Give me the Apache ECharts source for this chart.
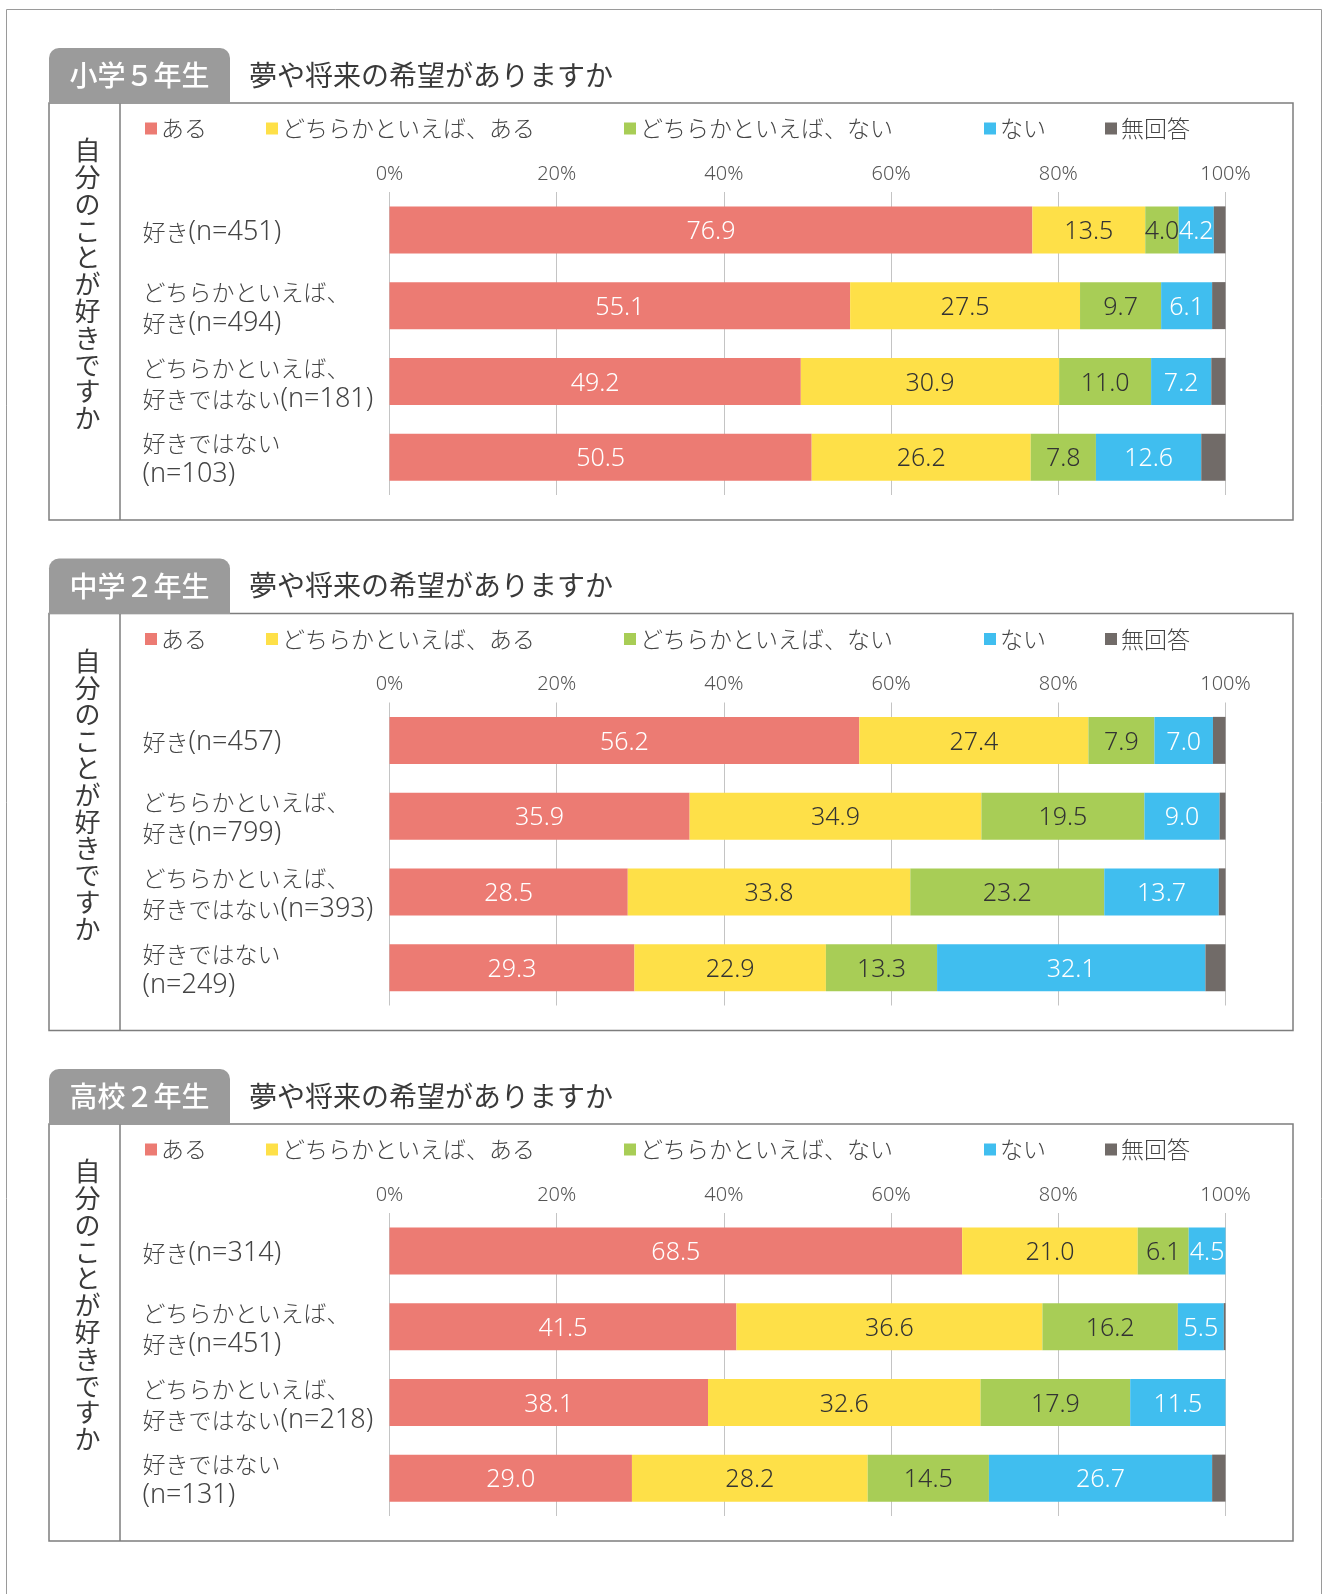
<!DOCTYPE html>
<html><head><meta charset="utf-8">
<script src="https://cdn.jsdelivr.net/npm/echarts@6/dist/echarts.min.js"></script>
<style>html,body{margin:0;padding:0;background:#fff}#c{width:1324px;height:1594px}</style>
</head><body><div id="c"></div>
<script>
// ---- data ----
const legendNames = ['ある', 'どちらかといえば、ある', 'どちらかといえば、ない', 'ない', '無回答'];
const panelTags = ['小学５年生', '中学２年生', '高校２年生'];
const questionTitle = '夢や将来の希望がありますか';
const sideTitle = '自分のことが好きですか';
const tickLabels = ['0%', '20%', '40%', '60%', '80%', '100%'];

const categories1 = ['好き(n=451)', 'どちらかといえば、\n好き(n=494)', 'どちらかといえば、\n好きではない(n=181)', '好きではない\n(n=103)'];
const categories2 = ['好き(n=457)', 'どちらかといえば、\n好き(n=799)', 'どちらかといえば、\n好きではない(n=393)', '好きではない\n(n=249)'];
const categories3 = ['好き(n=314)', 'どちらかといえば、\n好き(n=451)', 'どちらかといえば、\n好きではない(n=218)', '好きではない\n(n=131)'];

// 小学5年生
const p1Aru      = [76.9, 55.1, 49.2, 50.5];
const p1YayaAru  = [13.5, 27.5, 30.9, 26.2];
const p1YayaNai  = [4.0, 9.7, 11.0, 7.8];
const p1Nai      = [4.2, 6.1, 7.2, 12.6];
const p1Mukaito  = [1.4, 1.6, 1.7, 2.9];
// 中学2年生
const p2Aru      = [56.2, 35.9, 28.5, 29.3];
const p2YayaAru  = [27.4, 34.9, 33.8, 22.9];
const p2YayaNai  = [7.9, 19.5, 23.2, 13.3];
const p2Nai      = [7.0, 9.0, 13.7, 32.1];
const p2Mukaito  = [1.5, 0.7, 0.8, 2.4];
// 高校2年生
const p3Aru      = [68.5, 41.5, 38.1, 29.0];
const p3YayaAru  = [21.0, 36.6, 32.6, 28.2];
const p3YayaNai  = [6.1, 16.2, 17.9, 14.5];
const p3Nai      = [4.5, 5.5, 11.5, 26.7];
const p3Mukaito  = [0, 0.2, 0, 1.6];

const categories = [categories1, categories2, categories3];
const values = [
  [p1Aru, p1YayaAru, p1YayaNai, p1Nai, p1Mukaito],
  [p2Aru, p2YayaAru, p2YayaNai, p2Nai, p2Mukaito],
  [p3Aru, p3YayaAru, p3YayaNai, p3Nai, p3Mukaito]
];

// ---- style ----
const FONT = '"Noto Sans CJK JP", "Noto Sans", sans-serif';
const LFONT = '"Noto Sans", "Noto Sans CJK JP", sans-serif';
const colors = ['#EC7B73', '#FEE048', '#A8CD56', '#40BEEF', '#716B68'];
const labelColors = ['#ffffff', '#333333', '#333333', '#ffffff', '#ffffff'];
const OFFSET = 510.5;
const legendLefts = [145, 266, 624, 984, 1105];

const grid = [], xAxis = [], yAxis = [], series = [], legend = [], graphic = [];

graphic.push({type: 'rect', shape: {x: 6.5, y: 9.5, width: 1315, height: 1600},
  style: {fill: 'none', stroke: '#9a9a9a', lineWidth: 1}, silent: true});

const catFormatter = v => v.split('\n').map(line =>
  line.replace(/([\x20-\x7e]+)/g, '{l|$1}').replace(/(^|\})([^{}]+)(?=\{|$)/g, '$1{j|$2}')
).join('\n');

for (let p = 0; p < 3; p++) {
  const dy = p * OFFSET;
  grid.push({left: 389.5, width: 836, top: 192 + dy, height: 303});
  xAxis.push({
    gridIndex: p, type: 'value', position: 'top', min: 0, max: 100, interval: 20,
    axisLine: {show: false}, axisTick: {show: false},
    axisLabel: {formatter: v => tickLabels[Math.round(v / 20)], color: '#555', fontSize: 20, fontFamily: LFONT, fontWeight: 300, margin: 8},
    splitLine: {lineStyle: {color: '#c4c4c4', width: 1}}
  });
  yAxis.push({
    gridIndex: p, type: 'category', inverse: true, data: categories[p],
    axisLine: {show: false}, axisTick: {show: false},
    axisLabel: {align: 'left', margin: 247, color: '#444', formatter: catFormatter, padding: [4, 0, 0, 0],
      rich: {
        j: {fontSize: 23, lineHeight: 31, fontFamily: FONT, fontWeight: 300, color: '#444', verticalAlign: 'middle'},
        l: {fontSize: 27, lineHeight: 31, fontFamily: LFONT, fontWeight: 300, color: '#444', verticalAlign: 'middle'}
      }}
  });
  for (let s = 0; s < 5; s++) {
    series.push({
      name: legendNames[s], type: 'bar', xAxisIndex: p, yAxisIndex: p, stack: 'p' + p,
      barWidth: 47, data: values[p][s], itemStyle: {color: colors[s]},
      label: {show: s < 4, position: 'inside', offset: [0, 2],
        formatter: d => d.value > 0 ? d.value.toFixed(1) : '',
        color: labelColors[s], fontSize: 25, fontFamily: LFONT, fontWeight: 300},
      silent: true, animation: false
    });
    legend.push({
      data: [legendNames[s]], left: legendLefts[s], top: 117 + dy, icon: 'rect',
      itemWidth: 12, itemHeight: 12, padding: 0, itemGap: 0, selectedMode: false,
      textStyle: {fontSize: 23, color: '#444', fontFamily: FONT, fontWeight: 300, padding: [0, 0, 0, -1]}
    });
  }
  // panel box
  graphic.push({type: 'rect', shape: {x: 49, y: 103 + dy, width: 1244, height: 417},
    style: {fill: 'none', stroke: '#7d7d7d', lineWidth: 1.5}, silent: true});
  graphic.push({type: 'line', shape: {x1: 120, y1: 103 + dy, x2: 120, y2: 520 + dy},
    style: {stroke: '#7d7d7d', lineWidth: 1.5}, silent: true});
  // tab
  graphic.push({type: 'rect', shape: {x: 49, y: 48 + dy, width: 181, height: 55.5, r: [10, 10, 0, 0]},
    style: {fill: '#9b9b9b'}, silent: true});
  graphic.push({type: 'text', x: 139.5, y: 75.5 + dy,
    style: {text: panelTags[p], fill: '#fff', font: '500 28px ' + FONT, textAlign: 'center', textVerticalAlign: 'middle'}, silent: true});
  graphic.push({type: 'text', x: 249, y: 75 + dy,
    style: {text: questionTitle, fill: '#3a3a3a', font: '400 28px ' + FONT, textAlign: 'left', textVerticalAlign: 'middle'}, silent: true});
  // vertical side title
  graphic.push({type: 'text', x: 87.5, y: 137 + dy,
    style: {text: sideTitle.split('').join('\n'), fill: '#3a3a3a', font: '400 26px ' + FONT, lineHeight: 26.8, textAlign: 'center', textVerticalAlign: 'top'}, silent: true});
}

const chart = echarts.init(document.getElementById('c'), null, {renderer: 'canvas'});
chart.setOption({
  backgroundColor: '#fff', animation: false,
  grid, xAxis, yAxis, series, legend, graphic
});
</script></body></html>
